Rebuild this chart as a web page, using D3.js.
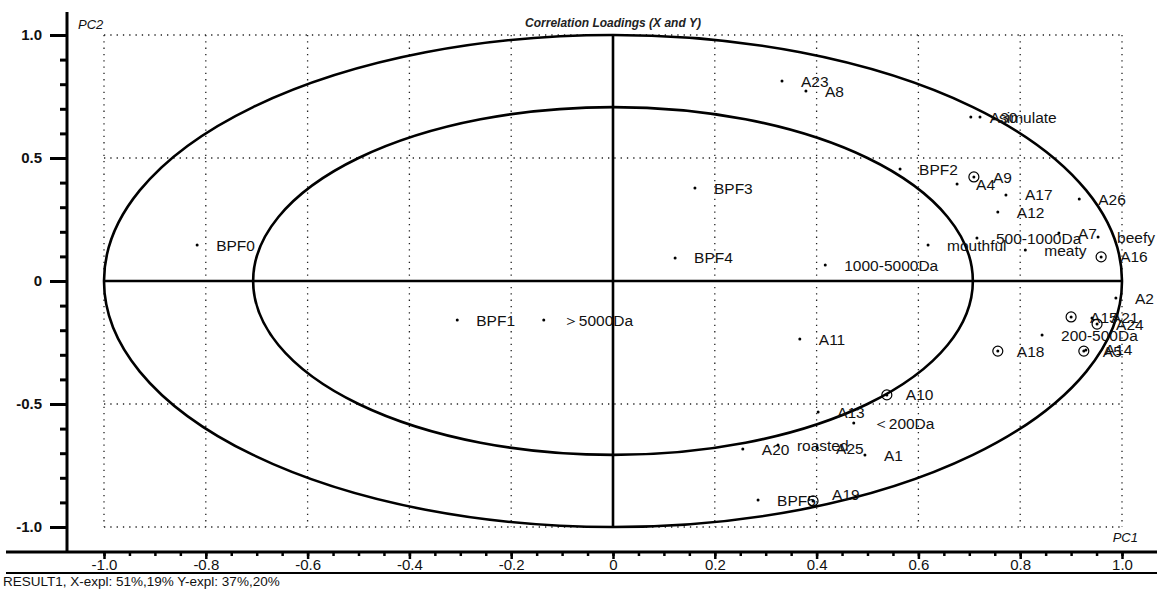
<!DOCTYPE html>
<html>
<head>
<meta charset="utf-8">
<script src="https://cdn.jsdelivr.net/npm/d3@7"></script>
<style>
  body { margin: 0; background: #fff; }
  svg { display: block; font-family: "Liberation Sans", Arial, sans-serif; }
</style>
</head>
<body>
<svg id="chart" width="1157" height="589"></svg>
<script>
// ---- data ----
var pointNames = ['BPF0', 'BPF1', '＞5000Da', 'BPF3', 'BPF4', '1000-5000Da', 'A11',
  'A23', 'A8', 'A30', 'simulate', 'BPF2', 'A4', 'A9', 'A17', 'A12', 'A26',
  'mouthful', '500-1000Da', 'A7', 'beefy', 'meaty', 'A16', 'A2', 'A15', 'A21',
  'A24', '200-500Da', 'A18', 'A5', 'A14', 'A10', 'A13', '＜200Da', 'A20',
  'roasted', 'A25', 'A1', 'BPF5', 'A19'];
var pc1 = [-0.817, -0.306, -0.136, 0.161, 0.122, 0.417, 0.367,
  0.332, 0.379, 0.703, 0.721, 0.564, 0.676, 0.709, 0.772, 0.756, 0.916,
  0.619, 0.715, 0.876, 0.953, 0.810, 0.959, 0.988, 0.900, 0.941,
  0.951, 0.843, 0.756, 0.925, 0.929, 0.538, 0.403, 0.473, 0.255,
  0.324, 0.401, 0.495, 0.285, 0.393];
var pc2 = [0.146, -0.159, -0.159, 0.378, 0.094, 0.065, -0.236,
  0.813, 0.772, 0.667, 0.667, 0.455, 0.394, 0.423, 0.350, 0.280, 0.333,
  0.146, 0.175, 0.195, 0.179, 0.126, 0.098, -0.069, -0.146, -0.150,
  -0.175, -0.220, -0.285, -0.285, -0.280, -0.463, -0.533, -0.577, -0.683,
  -0.667, -0.679, -0.707, -0.890, -0.894];
// 'o' = ring marker, '.' = plain dot
var markers = ['.', '.', '.', '.', '.', '.', '.',
  '.', '.', '.', '.', '.', '.', 'o', '.', '.', '.',
  '.', '.', '.', '.', '.', 'o', '.', 'o', '.',
  'o', '.', 'o', 'o', '.', 'o', '.', '.', '.',
  '.', '.', '.', '.', 'o'];

var ellipseRadii = [1.0, 0.707];
var xMajorTicks = [-1.0, -0.8, -0.6, -0.4, -0.2, 0, 0.2, 0.4, 0.6, 0.8, 1.0];
var yMajorTicks = [-1.0, -0.5, 0, 0.5, 1.0];
var xGrid = [-1.0, -0.8, -0.6, -0.4, -0.2, 0.2, 0.4, 0.6, 0.8, 1.0];
var yGrid = [-1.0, -0.5, 0.5, 1.0];

var titleText = 'Correlation Loadings (X and Y)';
var footerText = 'RESULT1, X-expl: 51%,19%  Y-expl: 37%,20%';

// label nudges for a crowded spot (layout only)
var labelNudge = { 'A19': [0, -7] };

//============================================================
var width = 1157, height = 589;
var axisX = 67, axisY = 552;

var svg = d3.select('#chart');

var x = d3.scaleLinear().domain([-1, 1]).range([104, 1122]);
var y = d3.scaleLinear().domain([-1, 1]).range([527, 35]);

var fmt = function (d) { return d === 0 ? '0' : d.toFixed(1); };

// dotted grid
var grid = svg.append('g').attr('class', 'grid')
    .attr('stroke', '#222').attr('stroke-width', 1.3)
    .attr('stroke-dasharray', '1.3,5').attr('fill', 'none');
grid.selectAll('line.v').data(xGrid).enter().append('line')
    .attr('x1', function (d) { return x(d); }).attr('x2', function (d) { return x(d); })
    .attr('y1', y(1)).attr('y2', y(-1));
grid.selectAll('line.h').data(yGrid).enter().append('line')
    .attr('x1', x(-1)).attr('x2', x(1))
    .attr('y1', function (d) { return y(d); }).attr('y2', function (d) { return y(d); });

// ellipses (unit and 50% explained variance circles)
svg.append('g').selectAll('ellipse').data(ellipseRadii).enter().append('ellipse')
    .attr('cx', x(0)).attr('cy', y(0))
    .attr('rx', function (d) { return x(d) - x(0); })
    .attr('ry', function (d) { return y(0) - y(d); })
    .attr('fill', 'none').attr('stroke', '#000').attr('stroke-width', 2.6);

// centre cross
svg.append('line').attr('x1', x(-1)).attr('x2', x(1)).attr('y1', y(0)).attr('y2', y(0))
    .attr('stroke', '#000').attr('stroke-width', 2.6);
svg.append('line').attr('x1', x(0)).attr('x2', x(0)).attr('y1', y(1)).attr('y2', y(-1))
    .attr('stroke', '#000').attr('stroke-width', 2.6);

// points
var pts = svg.append('g').selectAll('g.pt').data(pointNames).enter().append('g')
    .attr('class', 'pt')
    .attr('transform', function (d, i) { return 'translate(' + x(pc1[i]) + ',' + y(pc2[i]) + ')'; });

pts.append('circle').attr('r', 1.5).attr('fill', '#000');
pts.filter(function (d, i) { return markers[i] === 'o'; })
    .append('circle').attr('r', 5).attr('fill', 'none')
    .attr('stroke', '#000').attr('stroke-width', 1.2);

pts.append('text')
    .text(function (d) { return d; })
    .attr('x', function (d) { return 19 + (labelNudge[d] ? labelNudge[d][0] : 0); })
    .attr('y', function (d) { return labelNudge[d] ? labelNudge[d][1] : 0; })
    .attr('dy', '.36em')
    .attr('font-size', 15.5)
    .attr('fill', '#111');

// y axis
var yAxisG = svg.append('g').attr('transform', 'translate(' + axisX + ',0)');
yAxisG.call(d3.axisLeft(y).tickValues(d3.range(-10, 11).map(function (k) { return k / 10; }))
    .tickSize(7).tickFormat(''));
yAxisG.call(function (g) { g.select('.domain').remove(); });
var yMajor = svg.append('g').attr('transform', 'translate(' + axisX + ',0)')
    .call(d3.axisLeft(y).tickValues(yMajorTicks).tickSize(17).tickPadding(8).tickFormat(fmt));
yMajor.select('.domain').remove();
svg.selectAll('.tick line').attr('stroke', '#000').attr('stroke-width', 3);
yMajor.selectAll('text').attr('font-size', 15).attr('font-weight', 'bold')
    .attr('font-family', null).attr('fill', '#111');
svg.append('line').attr('x1', axisX).attr('x2', axisX).attr('y1', 12).attr('y2', axisY)
    .attr('stroke', '#000').attr('stroke-width', 3);

// x axis
var xMinor = svg.append('g').attr('transform', 'translate(0,' + axisY + ')')
    .call(d3.axisBottom(x).tickValues(d3.range(-20, 21).map(function (k) { return k / 20; }))
      .tickSize(4).tickFormat(''));
xMinor.select('.domain').remove();
var xMajor = svg.append('g').attr('transform', 'translate(0,' + axisY + ')')
    .call(d3.axisBottom(x).tickValues(xMajorTicks).tickSize(7).tickPadding(0).tickFormat(fmt));
xMajor.select('.domain').remove();
xMinor.selectAll('.tick line').attr('stroke', '#000').attr('stroke-width', 2.5);
xMajor.selectAll('.tick line').attr('stroke', '#000').attr('stroke-width', 2.5);
xMajor.selectAll('text').attr('font-size', 15).attr('font-family', null).attr('fill', '#111');
svg.append('line').attr('x1', 6).attr('x2', width).attr('y1', axisY).attr('y2', axisY)
    .attr('stroke', '#000').attr('stroke-width', 3);
svg.append('line').attr('x1', 6).attr('x2', width).attr('y1', 573).attr('y2', 573)
    .attr('stroke', '#000').attr('stroke-width', 2);

// titles
svg.append('text').attr('x', x(0)).attr('y', 27).attr('text-anchor', 'middle')
    .attr('font-size', 12).attr('font-style', 'italic').attr('font-weight', 'bold')
    .attr('fill', '#222').text(titleText);
svg.append('text').attr('x', 78).attr('y', 29)
    .attr('font-size', 13).attr('font-style', 'italic').attr('fill', '#111').text('PC2');
svg.append('text').attr('x', 1138).attr('y', 542).attr('text-anchor', 'end')
    .attr('font-size', 13).attr('font-style', 'italic').attr('fill', '#111').text('PC1');
svg.append('text').attr('x', 3).attr('y', 586)
    .attr('font-size', 13.5).attr('fill', '#111').text(footerText);
</script>
</body>
</html>
